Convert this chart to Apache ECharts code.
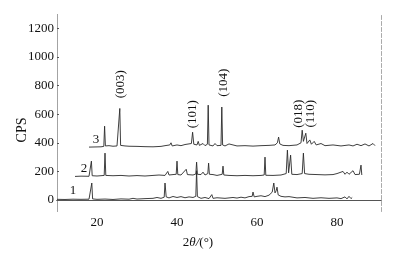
<!DOCTYPE html>
<html><head><meta charset="utf-8">
<script src="https://cdn.jsdelivr.net/npm/echarts@6/dist/echarts.min.js"></script>
<style>html,body{margin:0;padding:0;background:#fff}#c{width:408px;height:257px}</style>
</head><body><div id="c"></div>
<script>
// [2theta, CPS]
var pattern1 = [[10,5],[12,4],[14,6],[16,5],[18,6],[18.5,8],[18.7,119],[18.9,8],[20,5],[22,7],[24,4],[26,8],[28,6],[29,12],[30,7],[32,10],[34,12],[35,18],[36,12],[36.8,20],[37,119],[37.3,22],[38,15],[39,25],[39.5,12],[40,18],[41,24],[42,16],[43,22],[44,18],[44.7,26],[44.9,205],[45.1,24],[46,12],[47,18],[48,10],[48.7,38],[49,12],[50,16],[52,12],[54,18],[55,14],[56,20],[57,15],[58,24],[58.8,26],[59,56],[59.3,22],[60,26],[61,30],[62,24],[63,34],[63.8,55],[64.2,119],[64.5,50],[64.8,65],[65.0,90],[65.3,36],[66,26],[67,22],[68,24],[70,15],[72,18],[74,12],[76,16],[78,12],[80,15],[81,10],[82,22],[82.5,8],[83,26],[83.5,10],[83.8,18]];
var pattern2 = [[14.5,165],[16,167],[18,166],[18.4,170],[18.6,272],[18.8,170],[20,168],[21.8,172],[22.0,328],[22.2,172],[24,170],[26,172],[28,168],[30,171],[32,168],[34,172],[35.5,175],[36,180],[37,172],[37.7,200],[38,175],[39,178],[39.8,180],[40.0,272],[40.2,178],[41,175],[42.3,215],[42.6,178],[43,185],[44,175],[44.7,182],[44.9,265],[45.1,180],[46,178],[46.5,195],[47,175],[47.7,185],[47.9,258],[48.1,180],[49,178],[50,172],[51.3,180],[51.5,237],[51.7,175],[53,172],[55,170],[57,172],[59,170],[61,172],[61.8,175],[62.0,300],[62.2,173],[64,172],[66,175],[67.3,185],[67.6,349],[67.9,190],[68.1,195],[68.4,314],[68.7,180],[70,178],[71.3,185],[71.6,328],[71.9,185],[73,180],[75,178],[77,176],[79,178],[80,185],[80.5,175],[81.5,200],[82,180],[82.5,195],[83,180],[84,205],[84.5,178],[85,190],[85.6,180],[86.0,244],[86.2,175]];
var pattern3 = [[18,370],[19.5,371],[21,372],[21.7,375],[21.9,516],[22.1,378],[23,380],[24,376],[25,378],[25.5,380],[25.7,640],[25.9,382],[27,378],[28,376],[30,375],[32,373],[34,372],[36,375],[37,380],[38.2,385],[38.5,400],[38.8,378],[40,385],[41,380],[42,388],[43.6,395],[43.9,474],[44.2,390],[45,385],[45.3,410],[45.6,382],[46.5,395],[47,380],[47.6,390],[47.8,663],[48.0,385],[49,378],[49.5,395],[50,380],[51,382],[51.2,650],[51.4,385],[52,378],[53,392],[53.5,380],[55,378],[57,380],[59,377],[61,380],[63,382],[64.5,385],[65.1,400],[65.4,440],[65.7,392],[66.5,382],[68,380],[70,385],[71.0,400],[71.3,488],[71.6,410],[71.9,420],[72.2,467],[72.5,395],[73.2,420],[73.6,390],[74.3,410],[74.8,385],[76,395],[77,380],[79,385],[81,378],[83,385],[84,378],[85,390],[86,380],[87,392],[88,378],[89,395],[89.5,380]];
var xTicks = [20,40,60,80];
var yTicks = [0,200,400,600,800,1000,1200];
var seriesNames = ['1','2','3'];
var seriesLabelPos = [[14,63],[16.75,223],[19.75,425]];
var peakNames = ['(003)','(101)','(104)','(018)','(110)'];
var peakLabelPos = [[25.9,810],[43.8,600],[51.6,820],[70.3,603],[73.3,603]];

var font = '"Liberation Serif","DejaVu Serif",serif';
var chart = echarts.init(document.getElementById('c'), null, {renderer:'canvas'});
var data = [pattern1, pattern2, pattern3];
var series = data.map(function(d, i){
  return {
    type:'line', name: seriesNames[i], data: d, symbol:'none', silent:true,
    lineStyle:{color:'#2a2a2a', width:0.9}, animation:false,
    markPoint: {
      symbol:'circle', symbolSize:0, silent:true, animation:false,
      data: [{coord: seriesLabelPos[i], label:{show:true, formatter: seriesNames[i], color:'#111', fontFamily:font, fontSize:13, position:'inside'}}]
    }
  };
});
series.push({
  type:'scatter', data: [], silent:true,
  markPoint: {
    symbol:'circle', symbolSize:0, silent:true, animation:false,
    data: peakNames.map(function(n, i){
      return {coord: peakLabelPos[i], label:{show:true, formatter:n, rotate:90, color:'#111', fontFamily:font, fontSize:13, position:'inside'}};
    })
  }
});
var plain = function(v){ return String(v); };
chart.setOption({
  backgroundColor:'#fff',
  animation:false,
  grid:{left:57, right:27, top:14, bottom:45.5},
  xAxis:[{
    type:'value', min:10, max:91, position:'bottom',
    axisLine:{show:true, lineStyle:{color:'#222', width:1}},
    axisTick:{show:false},
    splitLine:{show:false},
    axisLabel:{customValues:xTicks, formatter:plain, color:'#111', fontFamily:font, fontSize:13, margin:5}
  },{
    type:'value', min:10, max:91, position:'top',
    axisLine:{show:true, lineStyle:{color:'#555', width:1}},
    axisTick:{show:false}, axisLabel:{show:false}, splitLine:{show:false}
  }],
  yAxis:[{
    type:'value', min:-80, max:1300, position:'left',
    axisLine:{show:true, lineStyle:{color:'#999', width:1, type:'dotted'}},
    axisTick:{show:true, customValues:yTicks, length:2, inside:true, lineStyle:{color:'#555'}},
    splitLine:{show:false},
    axisLabel:{customValues:yTicks, formatter:plain, color:'#111', fontFamily:font, fontSize:13, margin:3}
  },{
    type:'value', min:-80, max:1300, position:'right',
    axisLine:{show:true, lineStyle:{color:'#aaa', width:1, type:'dashed'}},
    axisTick:{show:false}, axisLabel:{show:false}, splitLine:{show:false}
  }],
  graphic:[
    {type:'text', x:22, y:130, rotation:Math.PI/2, style:{text:'CPS', font:'14px '+font, fill:'#111', align:'center', verticalAlign:'middle'}},
    {type:'text', x:198, y:243, style:{
      text:'2{i|θ/}(°)', font:'13px '+font, fill:'#111', align:'center', verticalAlign:'middle',
      rich:{i:{fontStyle:'italic', fontFamily:font, fontSize:13, fill:'#111'}}
    }}
  ],
  series: series
});
</script></body></html>
